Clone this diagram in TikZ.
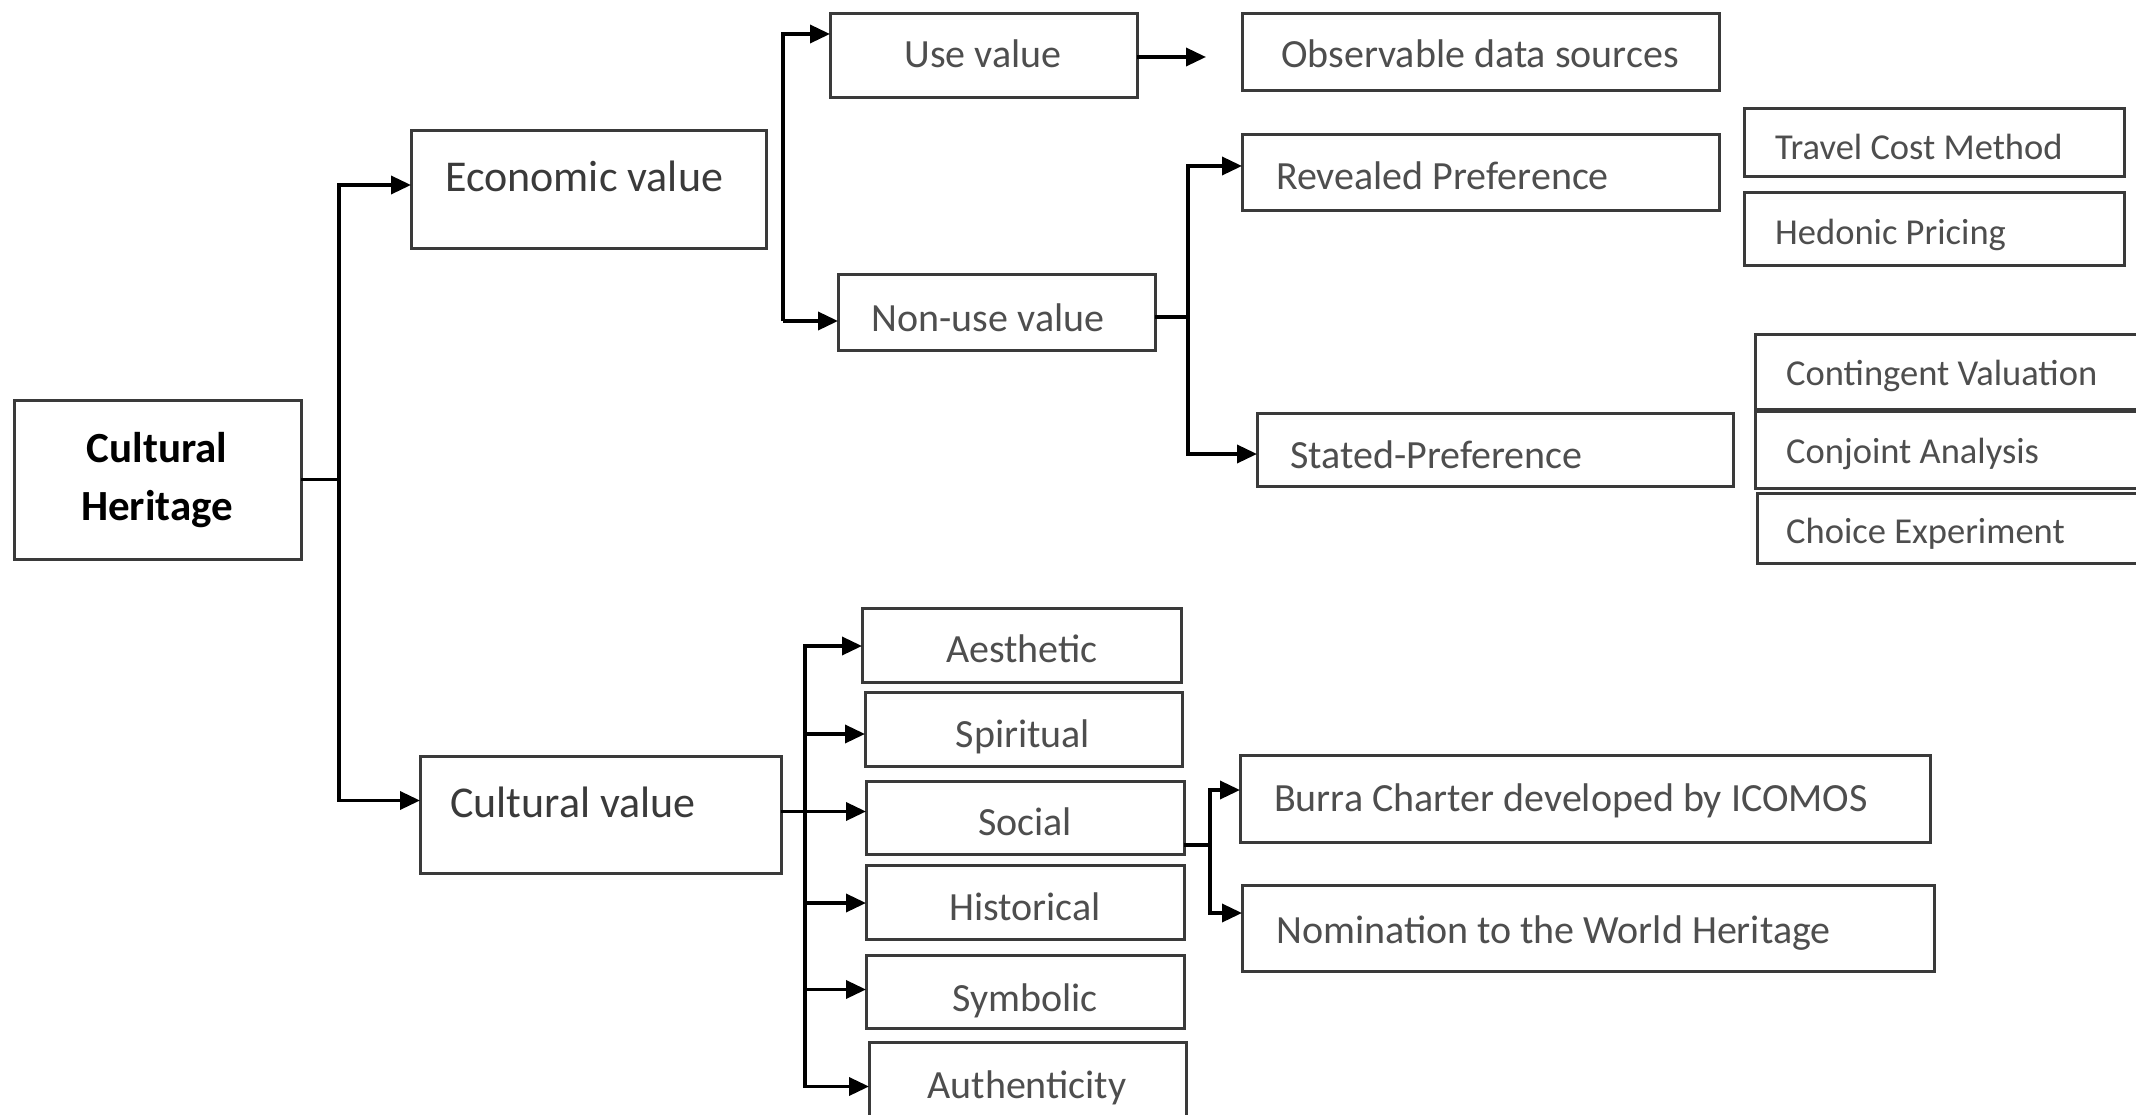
\documentclass[tikz,border=0pt]{standalone}
\usepackage{fontspec}
\setmainfont{Carlito}
\usetikzlibrary{arrows.meta,calc}
\definecolor{boxline}{HTML}{3A3A3A}
\definecolor{txtgrey}{HTML}{4E4E4E}
\definecolor{txtdark}{HTML}{3A3A3A}
\tikzset{
  box/.style={draw=boxline, line width=3pt, inner sep=0pt, outer sep=0pt},
  lbl/.style={inner sep=0pt, text=txtgrey, text height=28pt, text depth=0pt,
              font=\fontsize{40}{48}\selectfont},
  biglbl/.style={lbl, text=txtdark, text height=31pt, font=\fontsize{44}{52}\selectfont},
  smalllbl/.style={lbl, text height=25.5pt, font=\fontsize{36.5}{44}\selectfont},
  conn/.style={line width=3.5pt, black},
  arr/.style={conn, -{Triangle[length=20pt,width=18pt]}},
}
% box by its corners: name, x1, y1, x2, y2 (pixel units, y downwards)
\newcommand\boxat[5]{\node[box, minimum width={#4-#2}, minimum height={#5-#3}] (#1) at ({(#2+#4)/2},{(#3+#5)/2}) {};}
\begin{document}
\begin{tikzpicture}[x=1pt,y=-1pt]
\useasboundingbox (0,0) rectangle (2136,1115);
\clip (0,0) rectangle (2136,1115);
\fill[white] (0,0) rectangle (2136,1115);

% boxes
\boxat{ch}{14}{400}{301}{559}
\boxat{econ}{411}{131}{766}{249}
\boxat{cult}{420}{756}{781}{873}
\boxat{use}{830}{14}{1137}{98}
\boxat{nonuse}{838}{275}{1155}{350}
\boxat{obs}{1242}{14}{1719}{91}
\boxat{rev}{1242}{135}{1719}{211}
\boxat{stated}{1257}{413}{1733}{486}
\boxat{travel}{1744}{109}{2124}{177}
\boxat{hedonic}{1744}{193}{2124}{266}
\boxat{contingent}{1755}{334}{2150}{409}
\boxat{conjoint}{1755}{411}{2150}{488}
\boxat{choice}{1757}{493}{2150}{563}
\boxat{aes}{862}{608}{1181}{682}
\boxat{spi}{865}{692}{1182}{766}
\boxat{soc}{866}{781}{1184}{854}
\boxat{his}{866}{865}{1184}{939}
\boxat{sym}{866}{955}{1184}{1028}
\boxat{aut}{869}{1042}{1186}{1125}
\boxat{burra}{1240}{755}{1930}{842}
\boxat{nom}{1242}{885}{1934}{971}

% labels
\node[align=center, inner sep=0pt, font=\bfseries\fontsize{43}{58}\selectfont] (tch) at (157,480) {Cultural\\Heritage};
\node[biglbl, anchor=west] (tecon) at (445,176) {Economic value};
\node[biglbl, anchor=west] (tcult) at (450,802) {Cultural value};
\node[lbl] (tuse) at (983,54) {Use value};
\node[lbl] (tobs) at (1480,54) {Observable data sources};
\node[lbl, anchor=west] (trev) at (1276,176) {Revealed Preference};
\node[lbl] (tnon) at (988,317) {Non-use value};
\node[lbl, anchor=west] (tstated) at (1290,454) {Stated-Preference};
\node[smalllbl, anchor=west] (ttravel) at (1775,147) {Travel Cost Method};
\node[smalllbl, anchor=west] (thed) at (1775,232) {Hedonic Pricing};
\node[smalllbl, anchor=west] (tcont) at (1786,373) {Contingent Valuation};
\node[smalllbl, anchor=west] (tconj) at (1786,451) {Conjoint Analysis};
\node[smalllbl, anchor=west] (tchoice) at (1786,531) {Choice Experiment};
\node[lbl] (taes) at (1022,648) {Aesthetic};
\node[lbl] (tspi) at (1023,733) {Spiritual};
\node[lbl] (tsoc) at (1025,821) {Social};
\node[lbl] (this) at (1025,906) {Historical};
\node[lbl] (tsym) at (1025,997) {Symbolic};
\node[lbl] (taut) at (1027,1084) {Authenticity};
\node[lbl, anchor=west] (tburra) at (1274,797) {Burra Charter developed by ICOMOS};
\node[lbl, anchor=west] (tnom) at (1276,929) {Nomination to the World Heritage};

% main trunk
\coordinate (trunk) at ($(ch.east)+(38,0)$);
\draw[conn] (ch.east) -- (trunk);
\draw[arr] (trunk) |- ($(econ.west)+(0,-5)$);
\draw[arr] (trunk) |- ($(cult.west)+(0,-14)$);

% economic value branch
\coordinate (eb) at ($(econ.east)+(17,0)$);
\coordinate (au) at ($(use.west)+(0,-22)$);
\coordinate (an) at ($(nonuse.west)+(0,8.5)$);
\draw[arr] (eb |- an) |- (au);
\draw[arr] (eb |- an) -- (an);
\draw[arr] ($(use.east)+(0,1)$) -- ($(obs.west |- use.east)+(-36,1)$);

% non-use value branch
\coordinate (nb) at ($(nonuse.east)+(33,4.5)$);
\draw[conn] ($(nonuse.east)+(0,4.5)$) -- (nb);
\draw[arr] (nb) |- ($(rev.west)+(0,-7)$);
\draw[arr] (nb) |- ($(stated.west)+(0,4.5)$);

% cultural value branch
\coordinate (cb) at ($(cult.east)+(24,-3)$);
\draw[conn] ($(cult.east)+(0,-3)$) -- (cb);
\draw[arr] (cb) |- ($(aes.west)+(0,1)$);
\draw[arr] (cb) |- ($(spi.west)+(0,5)$);
\draw[arr] (cb) |- ($(soc.west)+(0,-6)$);
\draw[arr] (cb) |- ($(his.west)+(0,1)$);
\draw[arr] (cb) |- ($(sym.west)+(0,-2)$);
\draw[arr] (cb) |- ($(aut.west)+(0,3)$);

% social branch
\coordinate (sb) at ($(soc.east)+(26,27.5)$);
\draw[conn] ($(soc.east)+(0,27.5)$) -- (sb);
\draw[arr] (sb) |- ($(burra.west)+(0,-8.5)$);
\draw[arr] (sb) |- ($(nom.west)+(0,-15)$);
\end{tikzpicture}
\end{document}
